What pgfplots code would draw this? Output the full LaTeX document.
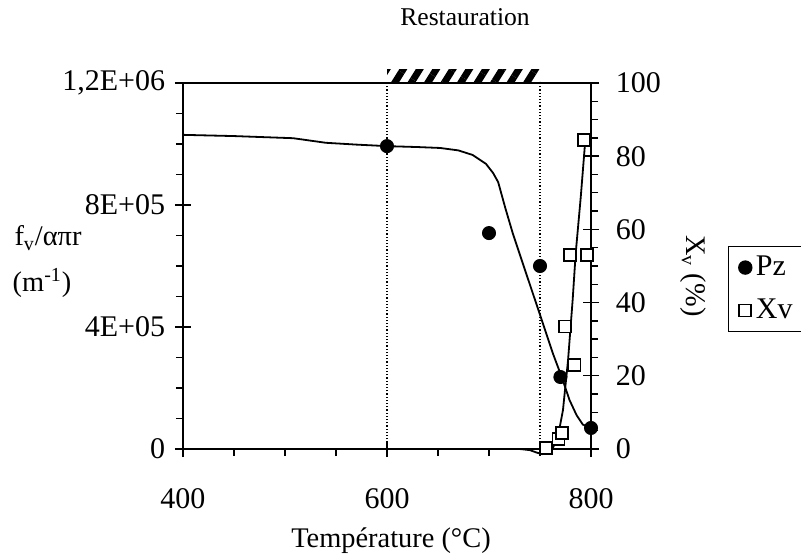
\documentclass[border=0pt]{standalone}
\usepackage{fontspec}
\setmainfont{Liberation Serif}
\usepackage{pgfplots}
\pgfplotsset{compat=1.18}
\usetikzlibrary{patterns.meta}

\pgfplotsset{
  common/.style={
    scale only axis, width=204pt, height=183pt,
    at={(0,0)}, anchor=south west,
    xmin=400, xmax=800, clip=false,
    tick align=center, major tick length=8pt, minor tick length=3.5pt,
    tick style={black, line width=0.7pt},
    axis line style={line width=0.9pt},
    tick label style={font=\fontsize{15pt}{18pt}\selectfont},
  },
}

\begin{document}
\fontsize{14.2pt}{17pt}\selectfont
\begin{tikzpicture}
\useasboundingbox (-91.5pt,-53.5pt) rectangle (309pt,224.5pt);

% left axis: Pz
\begin{axis}[common,
  ymin=0, ymax=1.2e6,
  xtick={400,600,800}, xticklabels={400,600,800},
  minor x tick num=3,
  ytick={0,4e5,8e5,1.2e6}, yticklabels={0,4E+05,8E+05,{1,2E+06}},
  minor y tick num=3,
  xtick pos=left, ytick pos=left,
  minor x tick style={yshift=-1.75pt},
  minor y tick style={xshift=-1.75pt},
  xticklabel shift=11pt,
  scaled y ticks=false,
]
\addplot[black, densely dotted, line width=0.6pt, forget plot]
  coordinates {(600,0) (600,1.2e6)};
\addplot[black, densely dotted, line width=0.6pt, forget plot]
  coordinates {(750,0) (750,1.2e6)};
\addplot[black, line width=0.9pt, forget plot] coordinates {
  (400,1.030e6) (450,1.026e6) (508,1.019e6) (540,1.004e6) (570,0.998e6)
  (600,0.993e6) (630,0.990e6) (652,0.987e6) (670,0.979e6) (684,0.964e6)
  (697,0.935e6) (704,0.905e6) (709,0.875e6) (716,0.79e6) (723.5,0.705e6)
  (737,0.57e6) (750,0.44e6) (757,0.37e6) (763,0.31e6) (771.6,0.233e6)
  (779,0.16e6) (786,0.11e6) (792,0.080e6) (800,0.069e6)
};
\addplot[only marks, mark=*, mark size=3.3pt, black, forget plot] coordinates {
  (600,0.993e6) (700,0.708e6) (750,0.600e6) (770,0.236e6) (800,0.069e6)
};
\fill[pattern={Lines[angle=58, distance=7pt, line width=3.4pt]}]
  (axis cs:600,1.2e6) rectangle (axis cs:750,1.244e6);
\end{axis}

% right axis: Xv
\begin{axis}[common,
  ymin=0, ymax=100,
  axis y line*=right, axis x line=none,
  ytick={0,20,40,60,80,100}, yticklabels={0,20,40,60,80,100},
  minor y tick num=3,
  minor y tick style={xshift=1.75pt},
  yticklabel shift=3.5pt,
  legend cell align=left,
  legend style={at={(1.336,0.5546)}, anchor=north west, draw=black,
    line width=0.6pt, inner xsep=5pt, inner ysep=3.5pt, row sep=7.5pt,
    nodes={inner xsep=2pt, inner ysep=1pt}, font=\fontsize{15pt}{18pt}\selectfont},
  legend image code/.code={\draw[#1] plot coordinates {(0cm,0cm)};},
]
\addlegendimage{only marks, mark=*, mark size=3.3pt, black}
\addlegendentry{Pz}
\addplot[black, line width=0.9pt, forget plot] coordinates {
  (730,0) (740,-0.3) (747,-1.0) (752,-1.4) (758,-0.8) (763,0.5) (768,4)
  (772.5,10.6) (777.5,24.3) (782,40.7) (785,53.5) (790,69) (794,83)
};
\addplot[only marks, mark=square*, mark size=3pt, black,
  mark options={fill=white, line width=0.8pt}] coordinates {
  (756,0.3) (768,2.7) (771.5,4.4) (774.5,33.5) (779.5,53) (784,23)
  (796,53) (793,84.4)
};
\addlegendentry{Xv}
\end{axis}

\node at (104pt,-46pt) {Température (°C)};
\node at (141pt,216pt) {\fontsize{12.8pt}{15pt}\selectfont Restauration};
\node at (-67.5pt,105.5pt) {f\textsubscript{v}/απr};
\node at (-70.5pt,83pt) {(m\textsuperscript{-1})};
\node[rotate=-90] at (255pt,86.5pt) {X\textsubscript{v} (\%)};
\end{tikzpicture}
\end{document}
